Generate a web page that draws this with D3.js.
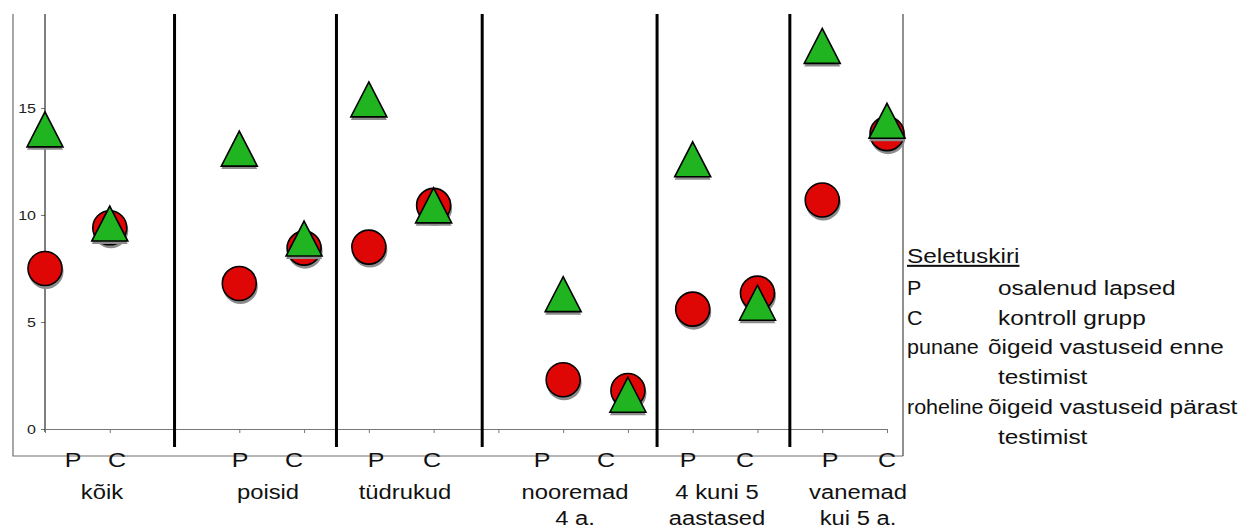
<!DOCTYPE html>
<html>
<head>
<meta charset="utf-8">
<script src="https://cdn.jsdelivr.net/npm/d3@7"></script>
<style>
  body { margin: 0; background: #fff; }
  svg { display: block; font-family: "Liberation Sans", Arial, Helvetica, sans-serif; }
</style>
</head>
<body>
<div id="chart"></div>
<script>
// groups along the x axis, P sits on pIndex, C on pIndex + 1
var groups = [["kõik"], ["poisid"], ["tüdrukud"], ["nooremad", "4 a."], ["4 kuni 5", "aastased"], ["vanemad", "kui 5 a."]]
var pIndex = [0, 3, 5, 8, 10, 12]

// punane = before testing, roheline = after testing
var beforeP = [7.5, 6.8, 8.5, 2.3, 5.6, 10.7]
var beforeC = [9.4, 8.45, 10.45, 1.8, 6.35, 13.8]
var afterP = [14.0, 13.1, 15.4, 6.3, 12.6, 17.9]
var afterC = [9.6, 8.9, 10.45, 1.6, 5.9, 14.4]

// vertical separators between groups (in x units)
var dividers = [2, 4.5, 6.75, 9.45, 11.5]
var yTicks = [0, 5, 10, 15]

var legendRows = [
  ["P", "osalenud lapsed"],
  ["C", "kontroll grupp"],
  ["punane", "õigeid vastuseid enne", "testimist"],
  ["roheline", "õigeid vastuseid pärast", "testimist"]
]

var width = 1254,
    height = 529,
    plotTop = 14,
    axisY = 429,
    boxLeft = 13,
    boxRight = 903,
    boxBottom = 456,
    stretch = 1.19   // the original text is a bit wider than it is tall

// hand placed text boxes under the axis (pixels)
var pLabelX = [73, 240, 376, 542, 688, 830],
    cLabelX = [117, 294, 432, 606, 745, 887],
    groupLabelX = [102, 268, 405, 575, 717, 858]

var x = d3.scaleLinear().domain([0, 13]).range([45, 887])
var y = d3.scaleLinear().domain([0, 19.39]).range([axisY, plotTop])

var svg = d3.select("#chart").append("svg")
    .attr("width", width)
    .attr("height", height)

function put(g, tx, ty, str, size, anchor, sx) {
  return g.append("text")
      .attr("transform", "translate(" + tx + "," + ty + ") scale(" + (sx || stretch) + ",1)")
      .attr("text-anchor", anchor || "start")
      .attr("font-size", size)
      .text(str)
}

// outer frame (no top edge)
svg.append("path")
    .attr("d", "M" + boxLeft + "," + plotTop + "V" + boxBottom + "H" + boxRight)
    .attr("fill", "none")
    .attr("stroke", "#6e6e6e")
    .attr("stroke-width", 1.2)
svg.append("line")
    .attr("x1", boxRight).attr("x2", boxRight)
    .attr("y1", plotTop).attr("y2", boxBottom)
    .attr("stroke", "#222")

// y axis
var yAxis = svg.append("g")
    .attr("transform", "translate(" + x(0) + ",0)")
    .call(d3.axisLeft(y).tickValues(yTicks).tickSize(4).tickFormat(""))
yAxis.select(".domain").remove()
yAxis.selectAll(".tick line").attr("stroke", "#777")
var yLab = svg.append("g").attr("fill", "#222")
yTicks.forEach(t => put(yLab, 36, y(t) + 5, t, 13.5, "end"))
svg.append("line")
    .attr("x1", x(0)).attr("x2", x(0))
    .attr("y1", plotTop).attr("y2", axisY + 3)
    .attr("stroke", "#000")

// x axis
var xAxis = svg.append("g")
    .attr("transform", "translate(0," + axisY + ")")
    .call(d3.axisBottom(x).tickValues(d3.range(0, 14)).tickSize(4).tickSizeOuter(0).tickFormat(""))
xAxis.select(".domain").attr("stroke", "#777").attr("stroke-width", 1.2)
xAxis.selectAll(".tick line").attr("stroke", "#777")

// separators
svg.selectAll("line.divider")
    .data(dividers)
  .enter().append("line")
    .attr("class", "divider")
    .attr("x1", d => x(d)).attr("x2", d => x(d))
    .attr("y1", plotTop).attr("y2", 447)
    .attr("stroke", "#000")
    .attr("stroke-width", 3)

// points
function points(pVals, cVals) {
  var out = []
  pIndex.forEach((p, i) => {
    out.push({x: p, v: pVals[i]})
    out.push({x: p + 1, v: cVals[i]})
  })
  return out
}

var r = 17
var tri = function(d) {
  var cx = x(d.x), cy = y(d.v)
  return "M" + cx + "," + (cy - 17.5) + "L" + (cx + 18) + "," + (cy + 17.5) + "L" + (cx - 18) + "," + (cy + 17.5) + "Z"
}

var red = points(beforeP, beforeC)
var green = points(afterP, afterC)

svg.selectAll("circle.shadow")
    .data(red)
  .enter().append("circle")
    .attr("class", "shadow")
    .attr("cx", d => x(d.x) + 1)
    .attr("cy", d => y(d.v) + 3)
    .attr("r", r + 0.5)
    .attr("fill", "#8c8c8c")
svg.selectAll("circle.dot")
    .data(red)
  .enter().append("circle")
    .attr("class", "dot")
    .attr("cx", d => x(d.x))
    .attr("cy", d => y(d.v))
    .attr("r", r)
    .attr("fill", "#df0606")
    .attr("stroke", "#000")
    .attr("stroke-width", 1.6)

svg.selectAll("path.tshadow")
    .data(green)
  .enter().append("path")
    .attr("class", "tshadow")
    .attr("d", tri)
    .attr("transform", "translate(0,3)")
    .attr("fill", "#8c8c8c")
svg.selectAll("path.tri")
    .data(green)
  .enter().append("path")
    .attr("class", "tri")
    .attr("d", tri)
    .attr("fill", "#21b421")
    .attr("stroke", "#000")
    .attr("stroke-width", 1.6)

// category labels
var lab = svg.append("g").attr("fill", "#111")
pLabelX.forEach(px => put(lab, px, 467, "P", 21, "middle"))
cLabelX.forEach(cx => put(lab, cx, 467, "C", 21, "middle"))
groups.forEach((g, i) => {
  g.forEach((line, j) => put(lab, groupLabelX[i], 499 + j * 26, line, 20, "middle"))
})

// legend
var leg = svg.append("g").attr("fill", "#111")
put(leg, 907, 263, "Seletuskiri", 20.5).attr("text-decoration", "underline")
var rowY = [295, 325, 354, 414]
legendRows.forEach((row, i) => {
  put(leg, 907, rowY[i], row[0], 20.5, "start", 1.05)
  put(leg, i < 2 ? 998 : 988, rowY[i], row[1], 20.5)
  if (row[2]) put(leg, 998, rowY[i] + 30, row[2], 20.5)
})
</script>
</body>
</html>
